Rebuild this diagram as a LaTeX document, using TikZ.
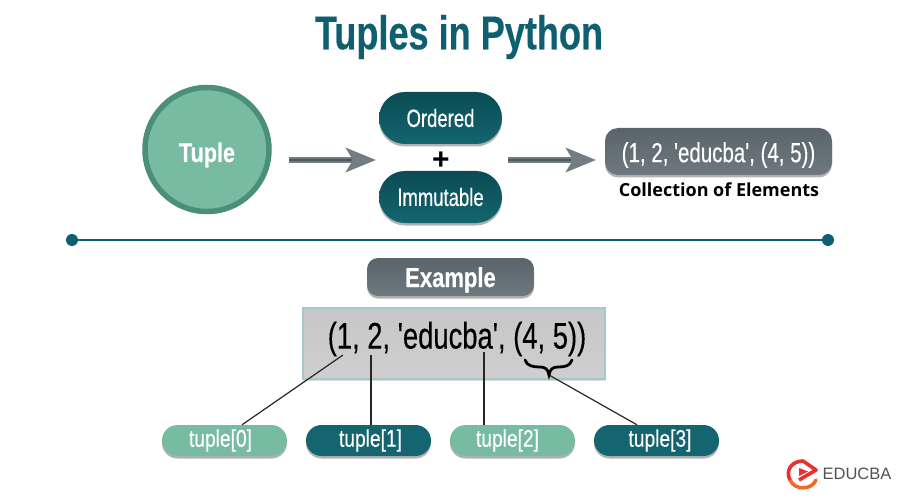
\documentclass[tikz,border=0pt]{standalone}
\usepackage{fontspec}
\setmainfont{Liberation Sans}
\newfontfamily\cond[FakeStretch=0.74,FakeBold=0.3]{Liberation Sans}
\newfontfamily\condm[FakeStretch=0.8,FakeBold=0.3]{Liberation Sans}
\newfontfamily\condb[FakeStretch=0.8,FakeBold=0.4]{Liberation Sans}
\newfontfamily\condt[FakeStretch=0.76,FakeBold=0.4]{Liberation Sans}
\newfontfamily\hum{Open Sans}
\usetikzlibrary{arrows.meta,shadows,calc}
\definecolor{teal1}{HTML}{0E6070}
\definecolor{tealtop}{HTML}{0A4C55}
\definecolor{tealbot}{HTML}{14656F}
\definecolor{mint}{HTML}{77BBA2}
\definecolor{mintdark}{HTML}{4A9079}
\definecolor{slatetop}{HTML}{5A646B}
\definecolor{slatebot}{HTML}{6E787F}
\definecolor{arrowgray}{HTML}{737D84}
\definecolor{arrowdark}{HTML}{4E575E}
\definecolor{boxedge}{HTML}{A5C8CA}
\definecolor{logored}{HTML}{E8302E}
\definecolor{logoorange}{HTML}{F4682A}
\tikzset{
  softshadow/.style={drop shadow={shadow xshift=0pt,shadow yshift=-2.5pt,opacity=.3,fill=black}},
  pillbox/.style={softshadow,minimum width=123pt,minimum height=52pt,rounded corners=26pt,top color=tealtop,bottom color=tealbot,draw=none,inner sep=0pt,text=white,font=\cond\fontsize{25}{25}\selectfont},
  slatebox/.style={softshadow,rounded corners=13pt,top color=slatetop,bottom color=slatebot,draw=none,inner sep=0pt,text=white},
  indexbox/.style={softshadow,minimum width=125pt,minimum height=31pt,rounded corners=15.5pt,draw=none,inner sep=0pt,text=white,font=\condm\fontsize{24}{24}\selectfont},
  bigarrow/.style={line width=6pt,draw=arrowgray,-{Stealth[length=30pt,width=24pt,inset=7pt,fill=arrowgray]}},
  arrowcore/.style={line width=2.2pt,draw=arrowdark},
  leader/.style={line width=1.2pt,draw=black!85},
  leaderv/.style={line width=1.7pt,draw=black!85},
}
\begin{document}
\begin{tikzpicture}[x=1pt,y=-1pt]
\useasboundingbox (0,0) rectangle (900,500);
\fill[white] (0,0) rectangle (900,500);
\node[text=teal1,inner sep=0pt,font=\condt\bfseries\fontsize{47.5}{47.5}\selectfont] (title) at (459,37) {Tuples in Python};
\node[circle,minimum size=124pt,inner sep=0pt,line width=5.5pt,draw=mintdark,fill=mint,softshadow,text=white,font=\condb\bfseries\fontsize{27}{27}\selectfont] (tuple) at (207,149.5) {\raisebox{-12.5pt}[0pt][0pt]{Tuple}};
\node[pillbox] (ordered) at (440.5,118) {Ordered};
\node[pillbox] (immut) at (440.5,197) {Immutable};
\node[inner sep=0pt,font=\bfseries\fontsize{30}{30}\selectfont] (plus) at (441,161) {+};
\coordinate (a1s) at (289,160);
\coordinate (a1e) at (376,160);
\coordinate (a2s) at (508,160);
\coordinate (a2e) at (596,160);
\draw[bigarrow] (a1s) -- (a1e);
\draw[bigarrow] (a2s) -- (a2e);
\draw[arrowcore] (a1s) -- ($(a1s)!0.72!(a1e)$);
\draw[arrowcore] (a2s) -- ($(a2s)!0.72!(a2e)$);
\node[slatebox,minimum width=227pt,minimum height=47pt,font=\cond\fontsize{27.7}{27.7}\selectfont] (coll) at (718.5,151.5) {\raisebox{-10.7pt}[0pt][0pt]{(1, 2, 'educba', (4, 5))}};
\node[inner sep=0pt,font=\hum\bfseries\fontsize{18}{18}\selectfont] (colllab) at (719,190) {Collection of Elements};
\node[circle,fill=teal1,minimum size=12pt,inner sep=0pt] (dotl) at (72,240) {};
\node[circle,fill=teal1,minimum size=12pt,inner sep=0pt] (dotr) at (828,240) {};
\draw[teal1,line width=2.5pt] (dotl) -- (dotr);
\node[slatebox,minimum width=167pt,minimum height=38pt,rounded corners=11pt,font=\condb\bfseries\fontsize{27.5}{27.5}\selectfont] (example) at (450.5,277) {\raisebox{-10pt}[0pt][0pt]{Example}};
\node[minimum width=302pt,minimum height=71pt,inner sep=0pt,top color=black!22,bottom color=black!19,draw=boxedge,line width=1.2pt,drop shadow={shadow xshift=0pt,shadow yshift=-1.5pt,opacity=.15,fill=black}] (code) at (454,343.5) {};
\node[inner sep=0pt,font=\cond\fontsize{37}{37}\selectfont] (codetext) at (457,339) {(1, 2, 'educba', (4, 5))};
\node[indexbox,fill=mint] (t0) at (224.5,440.5) {\kern-8pt tuple[0]};
\node[indexbox,fill=tealbot] (t1) at (368.5,440.5) {\kern4pt tuple[1]};
\node[indexbox,fill=mint] (t2) at (512.5,440.5) {\kern-10pt tuple[2]};
\node[indexbox,fill=tealbot] (t3) at (656.5,440.5) {\kern7pt tuple[3]};
\coordinate (l0) at (343,355);
\coordinate (l1) at (371,355);
\coordinate (l2) at (484,352);
\coordinate (l3) at (549,375);
\draw[leader] (l0) -- ($(t0.north)+(17.5,0)$);
\draw[leaderv] (l1) -- (l1 |- t1.north);
\draw[leaderv] (l2) -- (l2 |- t2.north);
\draw[leader] (l3) -- ($(t3.north)+(-19.5,0)$);
\draw[line width=2.8pt,black,line cap=round] (525,360) .. controls (527,366) and (533,367) .. (540,367) .. controls (545,367) and (548,369) .. (549,375) .. controls (550,369) and (553,367) .. (558,367) .. controls (565,367) and (570,366) .. (572,360);
% logo
\draw[line width=3.6pt,color=logoorange,line cap=round] (816,480) .. controls (812,490) and (795,491) .. (790,480);
\draw[line width=3.6pt,color=logored,line join=round] (790,480) .. controls (785,470) and (792,461) .. (803,461) -- (816,470) -- (799,480);
\fill[logored] (799,468) -- (808,471.5) -- (799,476) -- cycle;
\node[inner sep=0pt,text=black!68,font=\fontsize{16.5}{16.5}\selectfont] (edu) at (857,474) {EDUCBA};
\end{tikzpicture}
\end{document}
